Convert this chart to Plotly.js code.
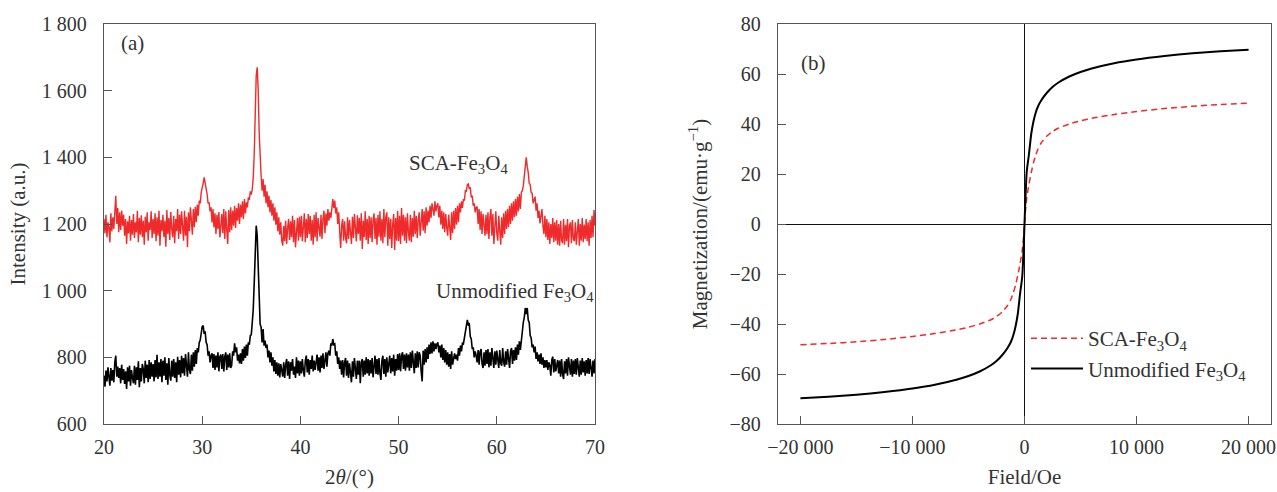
<!DOCTYPE html>
<html>
<head>
<meta charset="utf-8">
<script src="https://cdn.plot.ly/plotly-3.0.1.min.js"></script>
<style>html,body{margin:0;padding:0;background:#fff;}#chart{width:1277px;height:492px;}</style>
</head>
<body>
<div id="chart"></div>
<script>
// ---------- (a) XRD patterns: 2theta from 20 to 70 deg, step 0.1 ----------
const xrdStart = 20;
const xrdStep = 0.1;
const xrdSCA = [
1215,1172,1228,1160,1205,1190,1145,1232,1178,1220,
1185,1240,1285,1200,1248,1175,1235,1182,1240,1195,
1228,1165,1215,1140,1208,1172,1225,1150,1212,1168,
1230,1158,1205,1175,1240,1145,1218,1168,1226,1160,
1210,1138,1222,1175,1235,1150,1205,1182,1238,1158,
1215,1170,1232,1148,1220,1165,1240,1135,1212,1178,
1228,1160,1210,1132,1242,1170,1218,1152,1236,1185,
1160,1225,1142,1215,1178,1245,1155,1228,1170,1238,
1185,1150,1240,1165,1222,1130,1235,1178,1250,1192,
1168,1245,1190,1252,1205,1258,1225,1270,1262,1295,
1305,1322,1340,1325,1305,1290,1262,1265,1238,1250,
1205,1245,1190,1232,1170,1228,1185,1236,1160,1215,
1230,1172,1245,1155,1238,1182,1140,1242,1175,1250,
1182,1240,1195,1255,1188,1248,1210,1262,1200,1258,
1220,1268,1215,1275,1232,1265,1250,1280,1272,1298,
1288,1305,1340,1410,1525,1645,1670,1605,1475,1385,
1345,1300,1335,1282,1318,1262,1298,1250,1285,1235,
1272,1225,1262,1210,1250,1198,1235,1178,1220,1168,
1205,1150,1135,1195,1148,1210,1140,1188,1215,1152,
1208,1160,1225,1145,1212,1130,1198,1218,1150,1222,
1160,1225,1148,1210,1232,1145,1215,1158,1230,1170,
1225,1150,1212,1138,1228,1160,1235,1148,1218,1190,
1162,1228,1155,1215,1240,1172,1232,1195,1245,1210,
1235,1218,1262,1275,1248,1270,1232,1250,1200,1235,
1178,1128,1195,1215,1150,1208,1160,1142,1220,1155,
1212,1175,1140,1222,1158,1230,1165,1148,1226,1170,
1218,1150,1232,1125,1210,1160,1238,1152,1215,1140,
1225,1158,1220,1145,1212,1232,1155,1218,1138,1228,
1162,1238,1150,1215,1142,1245,1160,1222,1235,1135,
1220,1155,1215,1128,1198,1230,1122,1218,1150,1240,
1148,1225,1140,1248,1165,1228,1150,1220,1142,1232,
1175,1150,1228,1145,1218,1162,1240,1170,1225,1158,
1212,1235,1165,1228,1245,1180,1238,1172,1250,1195,
1240,1205,1255,1218,1262,1245,1225,1268,1238,1255,
1262,1220,1255,1198,1240,1185,1235,1175,1230,1190,
1165,1228,1180,1152,1235,1172,1240,1185,1248,1198,
1255,1205,1262,1235,1268,1248,1275,1270,1300,1298,
1318,1320,1305,1310,1280,1285,1255,1262,1235,1250,
1252,1200,1245,1182,1238,1170,1230,1178,1165,1228,
1170,1235,1155,1222,1245,1165,1230,1140,1218,1238,
1172,1150,1225,1160,1138,1220,1158,1232,1170,1240,
1185,1245,1190,1255,1200,1262,1210,1268,1220,1275,
1225,1282,1238,1290,1245,1295,1300,1315,1345,1368,
1400,1372,1355,1322,1318,1295,1292,1262,1275,1282,
1240,1262,1218,1240,1202,1228,1245,1195,1170,1225,
1160,1215,1152,1205,1140,1200,1158,1218,1145,1205,
1150,1212,1138,1200,1135,1210,1150,1142,1215,1138,
1198,1148,1215,1130,1195,1205,1142,1212,1155,1148,
1205,1138,1195,1215,1135,1200,1150,1218,1145,1198,
1155,1215,1148,1205,1135,1212,1158,1225,1160,1242,
1195];
const xrdUnmod = [
745,712,760,728,770,735,715,768,730,762,
725,785,805,742,772,738,768,722,778,732,
765,720,758,705,770,728,775,715,762,738,
722,775,718,770,732,788,710,768,728,780,
765,722,790,738,778,725,792,735,785,742,
780,728,792,740,808,735,785,742,795,725,
790,745,800,732,782,718,798,748,730,790,
742,795,738,785,725,802,748,792,740,805,
752,798,745,810,758,742,815,762,750,808,
760,815,772,822,780,828,815,845,852,880,
892,895,870,878,845,838,805,818,785,805,
812,768,810,762,805,770,815,758,802,808,
765,810,758,802,815,762,808,770,812,768,
775,818,805,842,815,830,790,808,782,812,
780,825,790,832,798,838,805,845,838,865,
868,905,945,1025,1135,1195,1165,1055,965,900,
890,845,885,835,850,828,838,800,820,785,
815,775,800,758,792,750,785,745,782,740,
780,755,742,785,738,778,795,745,788,735,
785,760,795,748,772,738,800,752,790,745,
788,752,795,760,742,790,805,755,795,748,
792,765,805,758,790,762,785,808,760,800,
755,805,768,812,765,805,815,772,812,820,
805,842,835,855,838,840,805,818,780,800,
765,790,748,792,740,785,798,745,790,738,
782,755,725,788,742,798,750,735,790,748,
790,722,785,795,742,790,748,800,752,795,
745,792,752,798,740,785,805,750,795,748,
798,752,732,790,805,750,795,742,800,755,
792,805,752,798,758,808,745,795,760,810,
762,812,758,805,815,765,808,760,812,770,
808,760,815,768,820,775,752,812,768,818,
770,815,805,758,728,820,778,825,785,830,
795,838,810,845,812,848,818,842,825,840,
845,815,835,800,838,792,828,785,822,778,
815,772,810,765,818,778,800,812,795,808,
790,828,805,835,818,842,840,860,870,895,
912,898,900,862,855,825,830,800,818,805,
785,822,778,818,825,780,768,815,775,822,
780,825,770,815,775,828,782,768,818,778,
820,780,768,822,782,775,828,785,772,818,
778,825,785,768,818,828,780,822,790,830,
792,838,808,848,822,855,865,905,920,948,
930,948,912,905,865,858,830,838,815,832,
795,815,788,808,780,812,778,800,768,792,
770,792,762,785,775,745,792,802,755,795,
758,785,792,752,790,742,795,750,735,788,
752,795,745,800,758,748,795,742,790,750,
795,748,798,755,742,790,748,798,755,788,
745,792,752,798,750,795,758,742,790,752,
795];

// ---------- (b) Magnetization curves ----------
const field = [-20000,-17500,-15000,-12500,-10000,-8000,-6000,-5000,-4000,-3000,-2500,-2000,-1500,-1200,-1000,-800,-600,-400,-200,-100,0,
  100,200,400,600,800,1000,1200,1500,2000,2500,3000,4000,5000,6000,8000,10000,12500,15000,17500,20000];
const magSCA = [-48.3,-47.8,-47.1,-46.2,-45.0,-43.8,-42.3,-41.3,-40.0,-38.3,-37.0,-35.2,-32.5,-30.0,-27.5,-24.5,-20.5,-16.0,-10.5,-6.0,0,
  6.0,10.5,16.0,20.5,24.5,27.5,30.0,32.5,35.2,37.0,38.3,40.0,41.3,42.3,43.8,45.0,46.2,47.1,47.8,48.3];
const magUnmod = [-69.7,-69.1,-68.3,-67.2,-65.8,-64.3,-62.2,-60.8,-59.0,-56.5,-54.8,-52.5,-49.5,-47.0,-44.5,-41.0,-36.0,-28.0,-21.0,-12.0,0,
  12.0,21.0,28.0,36.0,41.0,44.5,47.0,49.5,52.5,54.8,56.5,59.0,60.8,62.2,64.3,65.8,67.2,68.3,69.1,69.7];

const seriesNames = ['SCA-Fe<sub>3</sub>O<sub>4</sub>', 'Unmodified Fe<sub>3</sub>O<sub>4</sub>'];
const RED = '#ee2a2a';
const FONT = "'Liberation Serif', 'Times New Roman', serif";
const TXT = '#333';
const AX = '#555';
const TICK_SIZE = 20;
const TEXT_SIZE = 21;

const traces = [
  {x0: xrdStart, dx: xrdStep, y: xrdSCA, type: 'scatter', mode: 'lines', line: {color: RED, width: 1.4}, showlegend: false, xaxis: 'x', yaxis: 'y', hoverinfo: 'skip'},
  {x0: xrdStart, dx: xrdStep, y: xrdUnmod, type: 'scatter', mode: 'lines', line: {color: '#000', width: 1.6}, showlegend: false, xaxis: 'x', yaxis: 'y', hoverinfo: 'skip'},
  {x: field, y: magSCA, type: 'scatter', mode: 'lines', line: {color: RED, width: 1.5, dash: '6px,4px', shape: 'spline', smoothing: 0.6}, name: seriesNames[0], legendgroup: 'a', xaxis: 'x2', yaxis: 'y2'},
  {x: field, y: magUnmod, type: 'scatter', mode: 'lines', line: {color: '#000', width: 2, shape: 'spline', smoothing: 0.6}, name: seriesNames[1], legendgroup: 'b', xaxis: 'x2', yaxis: 'y2'}
];

const axBase = {
  showline: true, mirror: true, linecolor: AX, linewidth: 1.2,
  ticks: 'inside', ticklen: 8, tickwidth: 1, tickcolor: AX,
  showgrid: false, zeroline: false, automargin: false,
  tickfont: {family: FONT, size: TICK_SIZE, color: TXT},
  separatethousands: true
};
const yDom = [1 - 424/492, 1 - 24/492];
const titleFont = {family: FONT, size: TEXT_SIZE, color: TXT};

const layout = {
  width: 1277, height: 492,
  margin: {l: 0, r: 0, t: 0, b: 0},
  paper_bgcolor: '#fff', plot_bgcolor: '#fff',
  separators: '. ',
  font: {family: FONT, size: TEXT_SIZE, color: TXT},
  showlegend: true,
  xaxis: Object.assign({}, axBase, {domain: [104/1277, 595/1277], range: [20, 70], dtick: 10, tick0: 20, ticklabelstandoff: 5,
    title: {text: '2<i>θ</i>/(°)', font: titleFont, standoff: 12}, anchor: 'y'}),
  yaxis: Object.assign({}, axBase, {domain: yDom, range: [600, 1800], dtick: 200, tick0: 600, tickformat: ',', ticklabelstandoff: 12,
    title: {text: 'Intensity (a.u.)', font: titleFont, standoff: 10}, anchor: 'x'}),
  xaxis2: Object.assign({}, axBase, {domain: [778/1277, 1271/1277], range: [-22000, 22000], tickvals: [-20000, -10000, 0, 10000, 20000], tickformat: ',', ticklabelstandoff: 5,
    zeroline: true, zerolinecolor: '#111', zerolinewidth: 1,
    title: {text: 'Field/Oe', font: titleFont, standoff: 12}, anchor: 'y2'}),
  yaxis2: Object.assign({}, axBase, {domain: yDom, range: [-80, 80], dtick: 20, tick0: -80, ticklabelstandoff: 12,
    zeroline: true, zerolinecolor: '#111', zerolinewidth: 1,
    title: {text: 'Magnetization/(emu·g<sup>−1</sup>)', font: titleFont, standoff: 16}, anchor: 'x2'}),
  legend: {x: 1026/1277, y: 1 - 318/492, xanchor: 'left', yanchor: 'top', bgcolor: 'rgba(0,0,0,0)', borderwidth: 0,
    font: {family: FONT, size: TEXT_SIZE, color: TXT}, tracegroupgap: 8, itemwidth: 52, traceorder: 'normal'},
  annotations: [
    {text: '(a)', xref: 'x', yref: 'y', x: 22.95, y: 1743, showarrow: false, xanchor: 'center', yanchor: 'middle', font: titleFont},
    {text: seriesNames[0], xref: 'x', yref: 'y', x: 50.9, y: 1380, showarrow: false, xanchor: 'left', yanchor: 'middle', font: titleFont},
    {text: seriesNames[1], xref: 'x', yref: 'y', x: 53.6, y: 995, showarrow: false, xanchor: 'left', yanchor: 'middle', font: titleFont},
    {text: '(b)', xref: 'x2', yref: 'y2', x: -18860, y: 64.4, showarrow: false, xanchor: 'center', yanchor: 'middle', font: titleFont}
  ]
};

Plotly.newPlot('chart', traces, layout, {displayModeBar: false, staticPlot: true});
</script>
</body>
</html>
